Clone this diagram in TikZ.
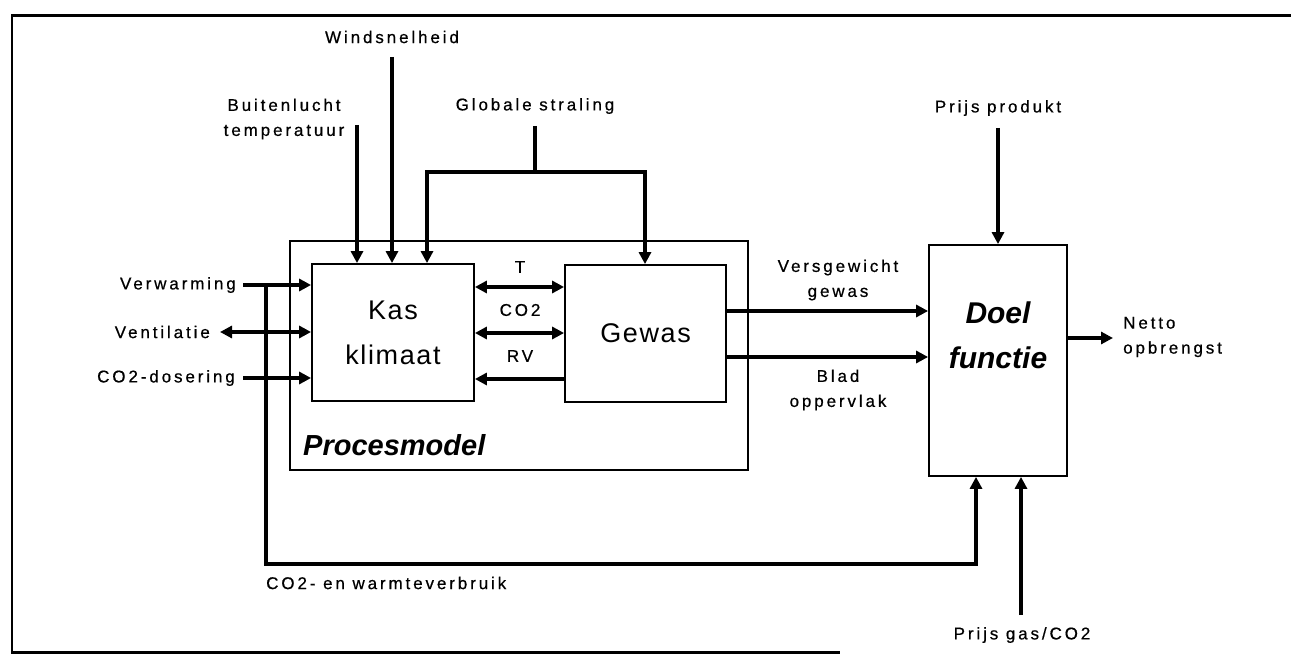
\documentclass[tikz,border=0pt]{standalone}
\usepackage{fontspec}
\setmainfont{Liberation Sans}
\newfontfamily\lblfont[LetterSpace=17,FakeBold=0.6]{Liberation Sans}
\newfontfamily\boxfont[LetterSpace=6]{Liberation Sans}
\usetikzlibrary{arrows.meta}
\begin{document}
\begin{tikzpicture}[x=1pt,y=-1pt,
  lbl/.style={font=\lblfont\fontsize{17}{25}\selectfont, inner sep=0pt, align=center},
  boxn/.style={draw, line width=1.8pt, inner sep=0pt},
  thk/.style={line width=4.5pt},
  arr/.style={thk, -{Triangle[length=12pt,width=12pt]}},
  darr/.style={thk, {Triangle[length=12pt,width=12pt]}-{Triangle[length=12pt,width=12pt]}},
  bigtxt/.style={font=\boxfont\fontsize{27}{45}\selectfont, align=center},
  bitxt/.style={font=\bfseries\itshape\fontsize{30}{45}\selectfont, align=center, inner sep=0pt}
]
\useasboundingbox (0,0) rectangle (1291,655);
% frame
\draw[line width=2.6pt] (1291,15.5) -- (12,15.5) -- (12,652.5) -- (840,652.5);
% boxes
\node[boxn, line width=1.6pt, minimum width=458pt, minimum height=229pt] (pm) at (519,355.5) {};
\node[boxn, bigtxt, minimum width=162pt, minimum height=137pt] (kas) at (393,332.5) {Kas\\klimaat};
\node[boxn, bigtxt, minimum width=161pt, minimum height=137pt] (gew) at (645.5,333.5) {Gewas};
\node[boxn, minimum width=138pt, minimum height=231pt] (doel) at (998,360.5) {};
\node[bitxt] (doeltxt) at (998,335) {Doel\\functie};
\node[bitxt, font=\bfseries\itshape\fontsize{29}{30}\selectfont, anchor=west] (pmtxt) at (303,445) {Procesmodel};
% labels
\node[lbl] (wind) at (392,37) {Windsnelheid};
\node[lbl] (buit) at (284,119) {Buitenlucht\\temperatuur};
\node[lbl] (glob) at (535,106) {Globale straling};
\node[lbl] (pprod) at (998,108) {Prijs produkt};
\node[lbl] (vers) at (838,280) {Versgewicht\\gewas};
\node[lbl] (blad) at (838,390) {Blad\\oppervlak};
\node[lbl, anchor=west, align=left] (netto) at (1123,337) {Netto\\opbrengst};
\node[lbl, anchor=east] (verw) at (236,285) {Verwarming};
\node[lbl, anchor=east] (vent) at (210,332) {Ventilatie};
\node[lbl, anchor=east] (co2d) at (235,378) {CO2-dosering};
\node[lbl, anchor=west] (verbr) at (266,583) {CO2- en warmteverbruik};
\node[lbl] (pgas) at (1022,635) {Prijs gas/CO2};
\node[lbl] (tl) at (520,267) {T};
\node[lbl] (co2l) at (520,310) {CO2};
\node[lbl] (rvl) at (520,356) {RV};
% coordinates for free ends
\coordinate (wS) at (392,57);
\coordinate (bS) at (357,125);
\coordinate (gS) at (535,126);
\coordinate (gJ) at (535,172);
\coordinate (gL) at (427,172);
\coordinate (gR) at (645,172);
\coordinate (verwS) at (243,285);
\coordinate (ventS) at (220,332);
\coordinate (co2S) at (243,378);
\coordinate (fbT) at (266,285);
\coordinate (fbB) at (266,564);
\coordinate (fbR) at (976,564);
\coordinate (tY) at (0,287);
\coordinate (cY) at (0,333);
\coordinate (rY) at (0,379);
\coordinate (vY) at (0,311);
\coordinate (bY) at (0,357);
\coordinate (nE) at (1113,338);
\coordinate (ppS) at (998,128);
\coordinate (pgS) at (1021,615);
% connectors
\draw[arr] (wS) -- (wS |- kas.north);
\draw[arr] (bS) -- (bS |- kas.north);
\draw[thk] (gS) -- (gJ);
\draw[arr] (gJ) -- (gL) -- (gL |- kas.north);
\draw[arr] (gJ) -- (gR) -- (gR |- gew.north);
\draw[arr] (verwS) -- (verwS -| kas.west);
\draw[darr] (ventS) -- (ventS -| kas.west);
\draw[arr] (co2S) -- (co2S -| kas.west);
\draw[arr, line width=4pt] (fbT) -- (fbB) -- (fbR) -- (fbR |- doel.south);
\draw[darr] (kas.east |- tY) -- (gew.west |- tY);
\draw[darr] (kas.east |- cY) -- (gew.west |- cY);
\draw[arr] (gew.west |- rY) -- (kas.east |- rY);
\draw[arr] (gew.east |- vY) -- (doel.west |- vY);
\draw[arr] (gew.east |- bY) -- (doel.west |- bY);
\draw[arr] (doel.east |- nE) -- (nE);
\draw[arr] (ppS) -- (ppS |- doel.north);
\draw[arr] (pgS) -- (pgS |- doel.south);
\end{tikzpicture}
\end{document}
